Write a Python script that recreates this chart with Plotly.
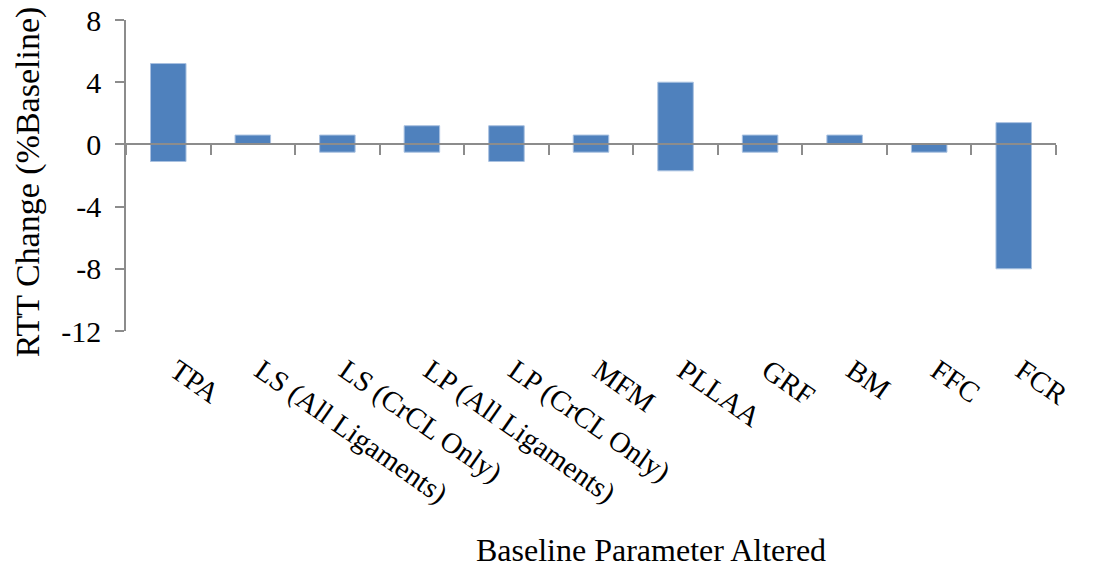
import plotly.graph_objects as go

categories = ["TPA", "LS (All Ligaments)", "LS (CrCL Only)", "LP (All Ligaments)",
              "LP (CrCL Only)", "MFM", "PLLAA", "GRF", "BM", "FFC", "FCR"]
high_vals = [5.2, 0.6, 0.6, 1.2, 1.2, 0.6, 4.0, 0.6, 0.6, 0.0, 1.4]
low_vals = [-1.1, 0.0, -0.5, -0.5, -1.1, -0.5, -1.7, -0.5, 0.0, -0.5, -8.0]
y_ticks = [-12, -8, -4, 0, 4, 8]

FONT = "Liberation Serif"
AX = "#8C8C8C"

fig = go.Figure()
fig.add_trace(go.Bar(
    x=categories,
    y=[h - l for h, l in zip(high_vals, low_vals)],
    base=low_vals,
    marker=dict(color="#4F81BD", line=dict(color="#A9C1E0", width=1)),
    width=0.42,
    hoverinfo="skip",
    showlegend=False,
))
# invisible helper trace on the overlaid axis that draws the line at zero
fig.add_trace(go.Scatter(
    x=categories, y=[0] * len(categories), xaxis="x2", mode="markers",
    marker=dict(opacity=0), hoverinfo="skip", showlegend=False,
))

fig.update_layout(
    width=1100, height=569,
    margin=dict(l=126, r=44, t=20, b=238),
    paper_bgcolor="white", plot_bgcolor="white",
    font=dict(family=FONT, size=29, color="black"),
    xaxis=dict(
        type="category", categoryorder="array", categoryarray=categories,
        range=[-0.5, len(categories) - 0.5], automargin=False,
        showline=False, showgrid=False, zeroline=False, ticks="",
        tickangle=35, ticklabelstandoff=16, ticklabelshift=8,
        ticklabeloverflow="allow",
        tickfont=dict(family=FONT, size=29, color="black"),
    ),
    xaxis2=dict(
        type="category", categoryorder="array", categoryarray=categories,
        range=[-0.5, len(categories) - 0.5], automargin=False,
        overlaying="x", anchor="free", position=0.6, side="bottom",
        showline=True, linecolor=AX, linewidth=1.5,
        ticks="outside", tickson="boundaries", ticklen=10, tickcolor=AX, tickwidth=1.5,
        showticklabels=False, showgrid=False, zeroline=False,
    ),
    yaxis=dict(
        range=[-12, 8], tickvals=y_ticks, ticktext=[str(v) for v in y_ticks],
        automargin=False, ticklabeloverflow="allow",
        showline=True, linecolor=AX, linewidth=1.5,
        ticks="outside", ticklen=9, tickcolor=AX, tickwidth=1.5,
        ticklabelstandoff=8,
        showgrid=False, zeroline=False,
        tickfont=dict(family=FONT, size=30, color="black"),
    ),
    annotations=[
        dict(
            text="Baseline Parameter Altered", xref="paper", yref="paper",
            x=0.564, y=-0.705, xanchor="center", yanchor="middle", showarrow=False,
            font=dict(family=FONT, size=32, color="black"),
        ),
        dict(
            text="RTT Change (%Baseline)", xref="paper", yref="paper",
            x=-0.106, y=0.48, xanchor="center", yanchor="middle", showarrow=False,
            textangle=-90,
            font=dict(family=FONT, size=34, color="black"),
        ),
    ],
)

fig.write_html("out.html", config={"displayModeBar": False},
               post_script="document.body.style.margin='0px';")
